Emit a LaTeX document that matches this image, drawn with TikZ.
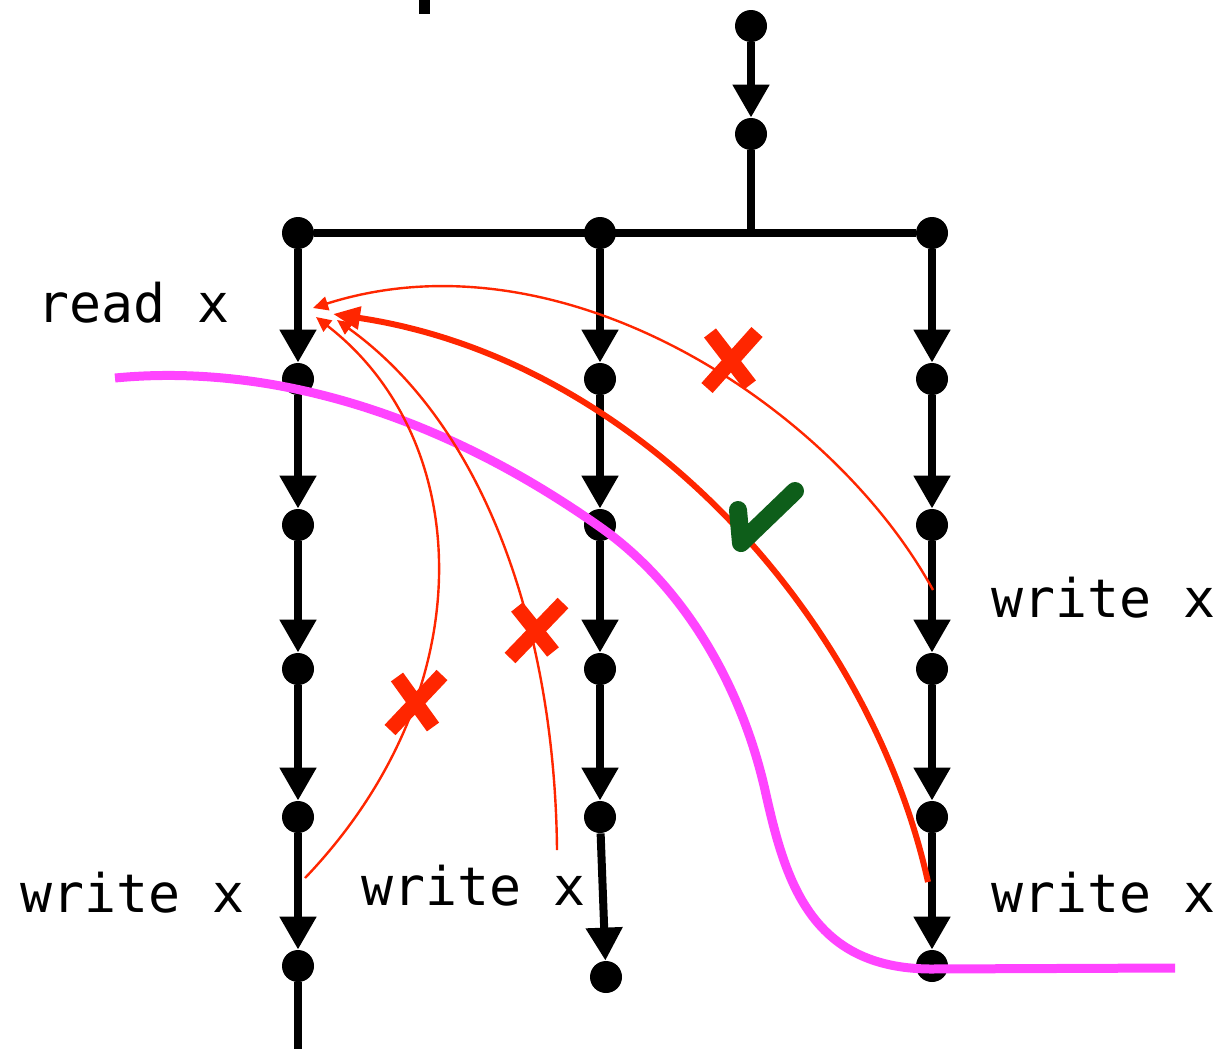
\documentclass[tikz,border=0pt]{standalone}
\usepackage{fontspec}
\setmonofont{DejaVu Sans Mono}
\usetikzlibrary{arrows.meta}
\definecolor{myred}{RGB}{255,38,0}
\definecolor{mypink}{RGB}{255,68,255}
\definecolor{mygreen}{RGB}{14,94,26}
\begin{document}
\begin{tikzpicture}[x=0.5pt,y=-0.5pt,
  dot/.style={circle,fill=black,minimum size=16pt,inner sep=0pt},
  flow/.style={line width=4pt,-{Triangle[width=17.5pt,length=16.5pt]}},
  plainline/.style={line width=4pt},
  lbl/.style={font=\ttfamily\fontsize{26.6}{30}\selectfont,anchor=base west,inner sep=0pt},
  redthin/.style={myred,line width=1.2pt,-{Triangle[width=7pt,length=7.5pt]}},
  redthick/.style={myred,line width=3pt,-{Triangle[width=11pt,length=13.5pt]}},
  xmark/.style={myred,line width=7.5pt},
  okmark/.style={mygreen,line width=9pt,line cap=round,line join=round},
  cutline/.style={mypink,line width=4.5pt}]
\useasboundingbox (0,0) rectangle (1219,1049);
\fill (419,0) rectangle (430,14);
% top
\node[dot] (t0) at (751,26) {};
\node[dot] (t1) at (751,134) {};
\coordinate (j) at (751,233);
% columns
\foreach \c/\x in {a/298,b/600,c/932}{
  \node[dot] (\c0) at (\x,233) {};
  \node[dot] (\c1) at (\x,379) {};
  \node[dot] (\c2) at (\x,525) {};
  \node[dot] (\c3) at (\x,669) {};
  \node[dot] (\c4) at (\x,817) {};
}
\node[dot] (a5) at (298,966) {};
\node[dot] (b5) at (606,977) {};
\node[dot] (c5) at (932,966) {};
\coordinate (abot) at (298,1049);
\draw[flow] (t0) -- (t1);
\draw[plainline] (t1) -- (j);
\draw[plainline] (a0) -- (c0);
\foreach \c in {a,b,c}{
  \draw[flow] (\c0) -- (\c1);
  \draw[flow] (\c1) -- (\c2);
  \draw[flow] (\c2) -- (\c3);
  \draw[flow] (\c3) -- (\c4);
  \draw[flow] (\c4) -- (\c5);
}
\draw[plainline] (a5) -- (abot);
% labels
\node[lbl] (lr) at (37,322) {read x};
\node[lbl] (lw1) at (20,912) {write x};
\node[lbl] (lw2) at (361,905) {write x};
\node[lbl] (lw3) at (991,617) {write x};
\node[lbl] (lw4) at (991,912) {write x};
% cut
\coordinate (p0) at (115,378);
\coordinate (p1) at (600,527);
\coordinate (p2) at (765,790);
\coordinate (p3) at (930,969);
\coordinate (p4) at (1175,968);
\draw[cutline] (p0) .. controls (250,365) and (420,400) .. (p1)
  .. controls (680,583) and (740,680) .. (p2)
  .. controls (785,880) and (810,968) .. (p3) -- (p4);
% red arrows
\coordinate (s1) at (933,590); \coordinate (e1) at (313,308);
\coordinate (s2) at (305,878); \coordinate (e2) at (316,317);
\coordinate (s3) at (557,850); \coordinate (e3) at (337,320);
\coordinate (s4) at (928,882); \coordinate (e4) at (333,314);
\draw[redthin] (s1) .. controls (835,410) and (565,228) .. (e1);
\draw[redthin] (s2) .. controls (485,690) and (475,440) .. (e2);
\draw[redthin] (s3) .. controls (555,640) and (490,430) .. (e3);
\draw[redthick] (s4) .. controls (870,620) and (640,360) .. (e4);
% marks
\draw[xmark] (710,333) -- (750,385) (757,332) -- (707,388);
\draw[xmark] (517,607) -- (553,652) (563,603) -- (510,658);
\draw[xmark] (397,677) -- (433,727) (442,675) -- (390,730);
\draw[okmark] (738,510) -- (741,543) -- (795,491);
\end{tikzpicture}
\end{document}
